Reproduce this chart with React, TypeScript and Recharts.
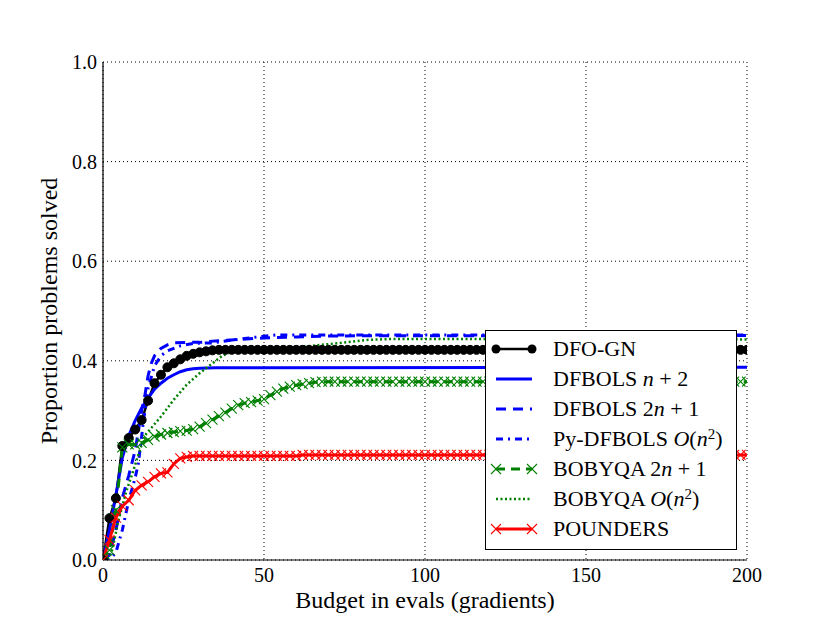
import React from "react";
import { CartesianGrid, Line, LineChart, XAxis, YAxis } from "recharts";

// budget grid (evals) for the marker series
const budgetGrid = [
  0, 2, 4, 6, 8, 10, 12, 14, 16, 18,
  20, 22, 24, 26, 28, 30, 32, 34, 36, 38,
  40, 42, 44, 46, 48, 50, 52, 54, 56, 58,
  60, 62, 64, 66, 68, 70, 72, 74, 76, 78,
  80, 82, 84, 86, 88, 90, 92, 94, 96, 98,
  100, 102, 104, 106, 108, 110, 112, 114, 116, 118,
  120, 122, 124, 126, 128, 130, 132, 134, 136, 138,
  140, 142, 144, 146, 148, 150, 152, 154, 156, 158,
  160, 162, 164, 166, 168, 170, 172, 174, 176, 178,
  180, 182, 184, 186, 188, 190, 192, 194, 196, 198,
  200,
];

const dfoGn = [
  0, 0.084, 0.124, 0.229, 0.245, 0.262, 0.281, 0.32, 0.355, 0.372,
  0.387, 0.395, 0.403, 0.41, 0.414, 0.417, 0.419, 0.421, 0.422, 0.422,
  0.422, 0.422, 0.422, 0.422, 0.422, 0.422, 0.422, 0.422, 0.422, 0.422,
  0.422, 0.422, 0.422, 0.422, 0.422, 0.422, 0.422, 0.422, 0.422, 0.422,
  0.422, 0.422, 0.422, 0.422, 0.422, 0.422, 0.422, 0.422, 0.422, 0.422,
  0.422, 0.422, 0.422, 0.422, 0.422, 0.422, 0.422, 0.422, 0.422, 0.422,
  0.422, 0.422, 0.422, 0.422, 0.422, 0.422, 0.422, 0.422, 0.422, 0.422,
  0.422, 0.422, 0.422, 0.422, 0.422, 0.422, 0.422, 0.422, 0.422, 0.422,
  0.422, 0.422, 0.422, 0.422, 0.422, 0.422, 0.422, 0.422, 0.422, 0.422,
  0.422, 0.422, 0.422, 0.422, 0.422, 0.422, 0.422, 0.422, 0.422, 0.422,
  0.422,
];

const bobyqa2n1 = [
  0, 0.02, 0.1, 0.226, 0.232, 0.232, 0.235, 0.241, 0.248, 0.252,
  0.255, 0.257, 0.259, 0.26, 0.263, 0.268, 0.275, 0.282, 0.289, 0.296,
  0.304, 0.311, 0.315, 0.317, 0.32, 0.323, 0.331, 0.338, 0.344, 0.348,
  0.351, 0.353, 0.355, 0.357, 0.358, 0.358, 0.358, 0.358, 0.358, 0.358,
  0.358, 0.358, 0.358, 0.358, 0.358, 0.358, 0.358, 0.358, 0.358, 0.358,
  0.358, 0.358, 0.358, 0.358, 0.358, 0.358, 0.358, 0.358, 0.358, 0.358,
  0.358, 0.358, 0.358, 0.358, 0.358, 0.358, 0.358, 0.358, 0.358, 0.358,
  0.358, 0.358, 0.358, 0.358, 0.358, 0.358, 0.358, 0.358, 0.358, 0.358,
  0.358, 0.358, 0.358, 0.358, 0.358, 0.358, 0.358, 0.358, 0.358, 0.358,
  0.358, 0.358, 0.358, 0.358, 0.358, 0.358, 0.358, 0.358, 0.358, 0.358,
  0.358,
];

const pounders = [
  0, 0.04, 0.085, 0.108, 0.12, 0.14, 0.15, 0.157, 0.167, 0.174,
  0.176, 0.193, 0.204, 0.207, 0.209, 0.209, 0.209, 0.209, 0.209, 0.209,
  0.209, 0.209, 0.209, 0.209, 0.209, 0.209, 0.209, 0.209, 0.209, 0.209,
  0.209, 0.211, 0.211, 0.211, 0.211, 0.211, 0.211, 0.211, 0.211, 0.211,
  0.211, 0.211, 0.211, 0.211, 0.211, 0.211, 0.211, 0.211, 0.211, 0.211,
  0.211, 0.211, 0.211, 0.211, 0.211, 0.211, 0.211, 0.211, 0.211, 0.211,
  0.211, 0.211, 0.211, 0.211, 0.211, 0.211, 0.211, 0.211, 0.211, 0.211,
  0.211, 0.211, 0.211, 0.211, 0.211, 0.211, 0.211, 0.211, 0.211, 0.211,
  0.211, 0.211, 0.211, 0.211, 0.211, 0.211, 0.211, 0.211, 0.211, 0.211,
  0.211, 0.211, 0.211, 0.211, 0.211, 0.211, 0.211, 0.211, 0.211, 0.211,
  0.211,
];

// line-only series, read at the bends
const dfbolsNp2X = [0, 2, 4, 6, 8, 10, 12, 14, 16, 18, 20, 22, 24, 26, 28, 30, 35, 200];
const dfbolsNp2Y = [0, 0.06, 0.13, 0.205, 0.25, 0.28, 0.305, 0.325, 0.343, 0.355, 0.365, 0.372, 0.378, 0.382, 0.384, 0.385, 0.386, 0.387];

const dfbols2n1X = [0, 2, 4, 6, 8, 10, 12, 13, 14, 15, 16, 18, 20, 22, 26, 30, 35, 40, 50, 60, 70, 200];
const dfbols2n1Y = [0, 0.01, 0.06, 0.125, 0.17, 0.22, 0.3, 0.33, 0.37, 0.395, 0.41, 0.425, 0.432, 0.436, 0.437, 0.437, 0.44, 0.442, 0.446, 0.448, 0.45, 0.451];

const pyDfbolsX = [0, 2, 4, 6, 8, 10, 11, 12.5, 14, 16, 18, 20, 24, 28, 34, 44, 54, 200];
const pyDfbolsY = [0, 0, 0.015, 0.06, 0.12, 0.165, 0.195, 0.275, 0.345, 0.39, 0.41, 0.42, 0.43, 0.435, 0.436, 0.445, 0.452, 0.452];

const bobyqaOn2X = [0, 2, 3, 4.7, 7.2, 9.3, 10.4, 13, 18, 22, 26, 30, 34, 37, 40, 44, 60, 74, 82, 90, 200];
const bobyqaOn2Y = [0, 0.005, 0.023, 0.077, 0.137, 0.177, 0.2, 0.25, 0.288, 0.322, 0.352, 0.375, 0.395, 0.41, 0.418, 0.422, 0.427, 0.436, 0.442, 0.444, 0.443];

const xTicks = [0, 50, 100, 150, 200];
const yTicks = [0, 0.2, 0.4, 0.6, 0.8, 1.0];

const FONT = "'Liberation Serif', serif";

type Marker = "none" | "dot" | "x";

interface Serie {
  key: string;
  xs: number[];
  ys: number[];
  color: string;
  width: number;
  dash?: string;
  marker: Marker;
  label: React.ReactNode;
}

const Sup = ({ children }: { children: React.ReactNode }) => (
  <sup style={{ fontSize: "0.68em", lineHeight: 0, verticalAlign: "0.5em" }}>{children}</sup>
);

const series: Serie[] = [
  { key: "dfogn", xs: budgetGrid, ys: dfoGn, color: "#000000", width: 2.5, marker: "dot", label: <>DFO-GN</> },
  { key: "np2", xs: dfbolsNp2X, ys: dfbolsNp2Y, color: "#0000ff", width: 3, marker: "none", label: <>DFBOLS <i>n</i> + 2</> },
  { key: "d2n1", xs: dfbols2n1X, ys: dfbols2n1Y, color: "#0000ff", width: 3, dash: "10 7", marker: "none", label: <>DFBOLS 2<i>n</i> + 1</> },
  { key: "py", xs: pyDfbolsX, ys: pyDfbolsY, color: "#0000ff", width: 3, dash: "7 5 2 5", marker: "none", label: <>Py-DFBOLS <i>O</i>(<i>n</i><Sup>2</Sup>)</> },
  { key: "b2n1", xs: budgetGrid, ys: bobyqa2n1, color: "#008000", width: 3, dash: "9 6", marker: "x", label: <>BOBYQA 2<i>n</i> + 1</> },
  { key: "bon2", xs: bobyqaOn2X, ys: bobyqaOn2Y, color: "#008000", width: 2.5, dash: "2 2.5", marker: "none", label: <>BOBYQA <i>O</i>(<i>n</i><Sup>2</Sup>)</> },
  { key: "pounders", xs: budgetGrid, ys: pounders, color: "#ff0000", width: 3, marker: "x", label: <>POUNDERS</> },
];

function XMark({ cx, cy, color }: { cx: number; cy: number; color: string }) {
  const s = 5;
  return (
    <path
      d={`M${cx - s},${cy - s}L${cx + s},${cy + s}M${cx - s},${cy + s}L${cx + s},${cy - s}`}
      stroke={color}
      strokeWidth={1.1}
      fill="none"
    />
  );
}

function dotFor(s: Serie) {
  if (s.marker === "dot") return { r: 4.5, fill: s.color, stroke: s.color, strokeWidth: 1 };
  if (s.marker === "x")
    return (p: any) => <XMark key={`${s.key}-${p.index}`} cx={p.cx} cy={p.cy} color={s.color} />;
  return false;
}

function LegendSample({ s }: { s: Serie }) {
  return (
    <svg width={67} height={30} style={{ display: "block", flex: "none" }}>
      <line x1={10} y1={15} x2={46} y2={15} stroke={s.color} strokeWidth={s.width} strokeDasharray={s.dash} />
      {s.marker === "dot" && (
        <>
          <circle cx={10} cy={15} r={4.5} fill={s.color} />
          <circle cx={46} cy={15} r={4.5} fill={s.color} />
        </>
      )}
      {s.marker === "x" && (
        <>
          <XMark cx={10} cy={15} color={s.color} />
          <XMark cx={46} cy={15} color={s.color} />
        </>
      )}
    </svg>
  );
}

function YTitle(props: any) {
  const vb = props.viewBox;
  const cx = vb.x + 6;
  const cy = vb.y + vb.height / 2;
  return (
    <text
      transform={`translate(${cx}, ${cy}) rotate(-90)`}
      textAnchor="middle"
      dominantBaseline="central"
      fontSize={24}
      fontFamily={FONT}
      fill="#000"
    >
      Proportion problems solved
    </text>
  );
}

export default function App() {
  const tickStyle = { fontSize: 20, fill: "#000", fontFamily: FONT };
  return (
    <div style={{ position: "absolute", left: 0, top: 0, width: 830, height: 623, background: "#fff", fontFamily: FONT }}>
      <LineChart width={830} height={623} margin={{ top: 62, right: 83, bottom: 15, left: 43 }}>
        <CartesianGrid stroke="#000" strokeDasharray="1 3" strokeWidth={1} />
        {series.map((s) => (
          <Line
            key={s.key}
            data={s.xs.map((x, i) => ({ x, y: s.ys[i] }))}
            dataKey="y"
            type="linear"
            stroke={s.color}
            strokeWidth={s.width}
            strokeDasharray={s.dash}
            dot={dotFor(s) as any}
            activeDot={false}
            isAnimationActive={false}
          />
        ))}
        <XAxis
          type="number"
          dataKey="x"
          domain={[0, 200]}
          allowDataOverflow
          ticks={xTicks}
          height={48}
          tickLine={false}
          tickSize={0}
          tickMargin={8}
          tick={tickStyle}
          axisLine={{ stroke: "#000", strokeWidth: 1.2 }}
          label={{
            value: "Budget in evals (gradients)",
            position: "insideBottom",
            offset: 0,
            fontSize: 24,
            fill: "#000",
            fontFamily: FONT,
          }}
        />
        <XAxis
          xAxisId="bottomTicks"
          type="number"
          domain={[0, 200]}
          allowDataOverflow
          ticks={xTicks}
          orientation="bottom"
          mirror
          height={0}
          tick={false}
          tickSize={6}
          tickLine={{ stroke: "#000" }}
          axisLine={false}
        />
        <XAxis
          xAxisId="top"
          type="number"
          domain={[0, 200]}
          allowDataOverflow
          ticks={xTicks}
          orientation="top"
          mirror
          height={0}
          tick={false}
          tickSize={6}
          tickLine={{ stroke: "#000" }}
          axisLine={{ stroke: "#000", strokeWidth: 1.2 }}
        />
        <YAxis
          type="number"
          domain={[0, 1]}
          allowDataOverflow
          ticks={yTicks}
          width={60}
          tickLine={false}
          tickSize={0}
          tickMargin={6}
          tick={tickStyle}
          tickFormatter={(v: number) => v.toFixed(1)}
          axisLine={{ stroke: "#000", strokeWidth: 1.2 }}
          label={{ content: YTitle }}
        />
        <YAxis
          yAxisId="leftTicks"
          type="number"
          domain={[0, 1]}
          allowDataOverflow
          ticks={yTicks}
          orientation="left"
          mirror
          width={0}
          tick={false}
          tickSize={6}
          tickLine={{ stroke: "#000" }}
          axisLine={false}
        />
        <YAxis
          yAxisId="right"
          type="number"
          domain={[0, 1]}
          allowDataOverflow
          ticks={yTicks}
          orientation="right"
          mirror
          width={0}
          tick={false}
          tickSize={6}
          tickLine={{ stroke: "#000" }}
          axisLine={{ stroke: "#000", strokeWidth: 1.2 }}
        />
      </LineChart>
      <div
        style={{
          position: "absolute",
          left: 485,
          top: 330,
          width: 252,
          height: 220,
          boxSizing: "border-box",
          border: "1.2px solid #000",
          background: "#fff",
          paddingTop: 3,
          fontFamily: FONT,
          fontSize: 22,
          color: "#000",
        }}
      >
        {series.map((s) => (
          <div key={s.key} style={{ display: "flex", alignItems: "center", height: 30, lineHeight: "30px" }}>
            <LegendSample s={s} />
            <span style={{ whiteSpace: "nowrap" }}>{s.label}</span>
          </div>
        ))}
      </div>
    </div>
  );
}
